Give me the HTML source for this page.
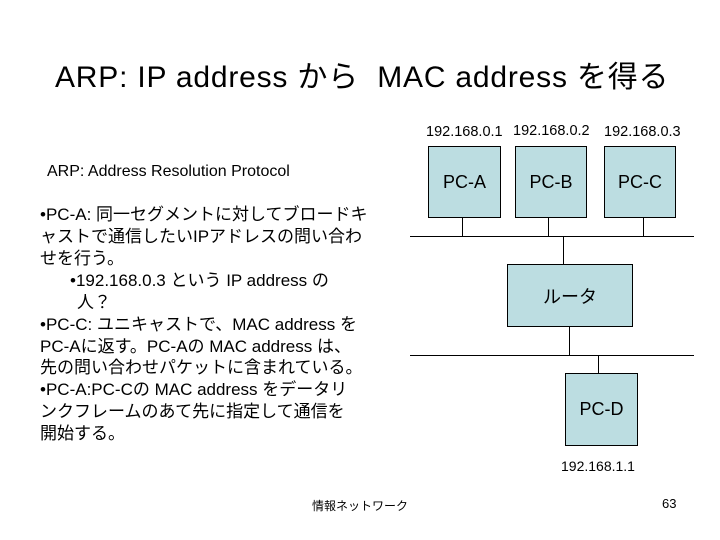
<!DOCTYPE html>
<html><head><meta charset="utf-8"><style>
body{margin:0;width:720px;height:540px;background:#fff;position:relative;overflow:hidden;font-family:"Liberation Sans","Noto Sans CJK JP",sans-serif;color:#000}
.a{position:absolute;white-space:nowrap}
.box{position:absolute;background:#bcdde1;border:1px solid #000;box-sizing:border-box;display:flex;align-items:center;justify-content:center;font-size:18px}
.l{position:absolute;background:#000}
.t{position:absolute;left:40px;font-size:17px;white-space:nowrap;line-height:22px}
</style></head><body>
<div class="a" style="left:55px;top:52px;font-size:30px;letter-spacing:0.8px">ARP: IP address から&nbsp; MAC address を得る</div>
<div class="a" style="left:47px;top:163px;font-size:16px">ARP: Address Resolution Protocol</div>

<div class="a" style="left:426px;top:124px;font-size:14.5px">192.168.0.1</div>
<div class="a" style="left:513px;top:123px;font-size:14.5px">192.168.0.2</div>
<div class="a" style="left:604px;top:124px;font-size:14.5px">192.168.0.3</div>
<div class="box" style="left:428px;top:146px;width:73px;height:72px">PC-A</div>
<div class="box" style="left:515px;top:146px;width:72px;height:72px">PC-B</div>
<div class="box" style="left:604px;top:146px;width:72px;height:72px">PC-C</div>
<div class="l" style="left:462px;top:218px;width:1px;height:18px"></div>
<div class="l" style="left:548px;top:218px;width:1px;height:18px"></div>
<div class="l" style="left:643px;top:218px;width:1px;height:18px"></div>
<div class="l" style="left:410px;top:236px;width:284px;height:1px"></div>
<div class="l" style="left:563px;top:236px;width:1px;height:28px"></div>
<div class="box" style="left:507px;top:264px;width:126px;height:63px">ルータ</div>
<div class="l" style="left:569px;top:327px;width:1px;height:28px"></div>
<div class="l" style="left:410px;top:355px;width:284px;height:1px"></div>
<div class="l" style="left:598px;top:355px;width:1px;height:18px"></div>
<div class="box" style="left:565px;top:373px;width:73px;height:73px">PC-D</div>
<div class="a" style="left:561px;top:458px;font-size:14px">192.168.1.1</div>

<div class="t" style="top:204px">•PC-A: 同一セグメントに対してブロードキ</div>
<div class="t" style="top:226px">ャストで通信したいIPアドレスの問い合わ</div>
<div class="t" style="top:248px">せを行う。</div>
<div class="t" style="top:270px;left:70px">•192.168.0.3 という IP address の</div>
<div class="t" style="top:292px;left:77px">人？</div>
<div class="t" style="top:314px">•PC-C: ユニキャストで、MAC address を</div>
<div class="t" style="top:336px">PC-Aに返す。PC-Aの MAC address は、</div>
<div class="t" style="top:357px">先の問い合わせパケットに含まれている。</div>
<div class="t" style="top:379px">•PC-A:PC-Cの MAC address をデータリ</div>
<div class="t" style="top:401px">ンクフレームのあて先に指定して通信を</div>
<div class="t" style="top:423px">開始する。</div>

<div class="a" style="left:312px;top:497px;font-size:12px">情報ネットワーク</div>
<div class="a" style="left:662px;top:496px;font-size:13px">63</div>
</body></html>
